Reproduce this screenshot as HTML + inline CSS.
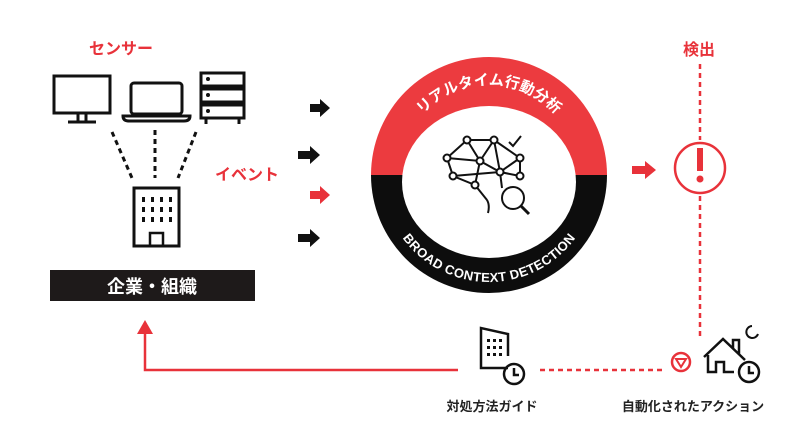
<!DOCTYPE html>
<html><head><meta charset="utf-8"><style>
html,body{margin:0;padding:0;background:#fff;}
svg{display:block;font-family:"Liberation Sans","Noto Sans CJK JP",sans-serif;}
</style></head><body>
<svg width="800" height="448" viewBox="0 0 800 448" xmlns="http://www.w3.org/2000/svg">
<defs>
<path id="topArc" d="M 399 175 A 90 90 0 0 1 579 175"/>
<path id="botArc" d="M 387 175 A 102 102 0 0 0 591 175"/>
</defs>
<!-- labels -->
<text x="121" y="54" fill="#e8323a" font-size="16" font-weight="bold" text-anchor="middle">センサー</text>
<text x="247" y="180" fill="#e8323a" font-size="16" font-weight="bold" text-anchor="middle">イベント</text>
<text x="699" y="55" fill="#e8323a" font-size="16" font-weight="bold" text-anchor="middle">検出</text>

<!-- monitor -->
<g fill="none" stroke="#111" stroke-width="3">
<rect x="54" y="76" width="56" height="37"/>
<line x1="78" y1="113" x2="78" y2="121"/><line x1="86" y1="113" x2="86" y2="121"/>
<line x1="68" y1="122" x2="96" y2="122"/>
<rect x="131" y="83" width="51" height="31" rx="3"/>
<path d="M123 116 H190 Q190 121 184 121 H129 Q123 121 123 116Z"/>
<rect x="201" y="73" width="43" height="13"/>
<rect x="201" y="89" width="43" height="13"/>
<rect x="201" y="105" width="43" height="13"/>
<line x1="206" y1="118" x2="206" y2="124"/><line x1="239" y1="118" x2="239" y2="124"/>
</g>
<g fill="#111"><circle cx="208" cy="79" r="2"/><circle cx="208" cy="95" r="2"/><circle cx="208" cy="111" r="2"/></g>
<g stroke="#111" stroke-width="3" stroke-dasharray="5,4">
<line x1="112" y1="132" x2="132" y2="178"/>
<line x1="155" y1="130" x2="155" y2="178"/>
<line x1="196" y1="132" x2="178" y2="178"/>
</g>
<rect x="134" y="188" width="45" height="58" fill="none" stroke="#111" stroke-width="3"/>
<g fill="#111">
<rect x="142" y="197" width="3" height="5"/><rect x="151" y="197" width="3" height="5"/><rect x="160" y="197" width="3" height="5"/><rect x="169" y="197" width="3" height="5"/>
<rect x="142" y="207" width="3" height="5"/><rect x="151" y="207" width="3" height="5"/><rect x="160" y="207" width="3" height="5"/><rect x="169" y="207" width="3" height="5"/>
<rect x="142" y="217" width="3" height="5"/><rect x="151" y="217" width="3" height="5"/><rect x="160" y="217" width="3" height="5"/><rect x="169" y="217" width="3" height="5"/>
</g>
<rect x="150" y="233" width="13" height="13" fill="none" stroke="#111" stroke-width="2.5"/>
<rect x="50" y="270" width="205" height="31" fill="#1e1a1a"/>
<text x="152" y="293" fill="#fff" font-size="18" font-weight="bold" text-anchor="middle">企業・組織</text>

<!-- arrows -->
<path d="M310 104 H320 V99 L330 108 L320 117 V112 H310Z" fill="#111"/>
<path d="M298 151 H310 V146 L320 155 L310 164 V159 H298Z" fill="#111"/>
<path d="M310 191 H320 V186 L330 195 L320 204 V199 H310Z" fill="#e8323a"/>
<path d="M298 234 H310 V229 L320 238 L310 247 V242 H298Z" fill="#111"/>
<path d="M632 166 H645 V161 L656 170 L645 179 V174 H632Z" fill="#e8323a"/>

<!-- ring -->
<path d="M371 175 A118 118 0 0 1 607 175Z" fill="#ec3b3f"/>
<path d="M371 175 A118 118 0 0 0 607 175Z" fill="#0d0d0d"/>
<ellipse cx="489" cy="182" rx="87" ry="76" fill="#fff"/>
<text fill="#fff" font-size="15" font-weight="bold" text-anchor="middle"><textPath href="#topArc" startOffset="50%">リアルタイム行動分析</textPath></text>
<text fill="#fff" font-size="13" font-weight="bold" text-anchor="middle" dominant-baseline="central"><textPath href="#botArc" startOffset="50%">BROAD CONTEXT DETECTION</textPath></text>
<g stroke="#111" stroke-width="2" fill="none">
<path d="M447 158 L467 140 L494 140 L520 158 L520 176 L500 172 L480 161 L467 140 M447 158 L480 161 L494 140 L500 172 L520 158 M447 158 L453 176 L475 185 L480 161 M453 176 L500 172 M475 185 L487 200 M487 200 Q490 205 488 213 M500 172 L502 188"/>
<circle cx="513" cy="198" r="11"/>
<line x1="521" y1="206" x2="529" y2="214" stroke-width="3"/>
<path d="M509 142 L513 146 L521 136"/>
</g>
<g fill="#fff" stroke="#111" stroke-width="2">
<circle cx="467" cy="140" r="3.5"/><circle cx="494" cy="140" r="3.5"/><circle cx="447" cy="158" r="3.5"/><circle cx="480" cy="161" r="3.5"/><circle cx="520" cy="158" r="3.5"/><circle cx="500" cy="172" r="3.5"/><circle cx="520" cy="176" r="3.5"/><circle cx="453" cy="176" r="3.5"/><circle cx="475" cy="185" r="3.5"/>
</g>

<!-- detection -->
<g stroke="#e8323a" stroke-width="2.5" stroke-dasharray="5,4" fill="none">
<line x1="700" y1="64" x2="700" y2="140"/>
<line x1="700" y1="196" x2="700" y2="340"/>
<line x1="540" y1="370" x2="662" y2="370"/>
</g>
<circle cx="700" cy="168" r="25" fill="none" stroke="#e8323a" stroke-width="2.5"/>
<rect x="697" y="148" width="6" height="23" fill="#e8323a"/>
<circle cx="700" cy="179" r="3.5" fill="#e8323a"/>

<path d="M458 370 H145 V332" fill="none" stroke="#e8323a" stroke-width="2.5"/>
<path d="M137 334 L145 320 L153 334Z" fill="#e8323a"/>

<g stroke="#111" stroke-width="2.5" fill="none">
<path d="M508 368 H481 V328 L508 334 V356"/>
<circle cx="514" cy="374" r="10"/>
<path d="M514 368 V375 H519"/>
</g>
<g fill="#111">
<rect x="487" y="339" width="3" height="3"/><rect x="493" y="339" width="3" height="3"/><rect x="499" y="339" width="3" height="3"/>
<rect x="487" y="346" width="3" height="3"/><rect x="493" y="346" width="3" height="3"/><rect x="499" y="346" width="3" height="3"/>
<rect x="487" y="353" width="3" height="3"/><rect x="493" y="353" width="3" height="3"/><rect x="499" y="353" width="3" height="3"/>
</g>
<text x="492" y="411" fill="#222" font-size="13" font-weight="bold" text-anchor="middle">対処方法ガイド</text>

<circle cx="681" cy="362" r="9" fill="none" stroke="#e8323a" stroke-width="2.5"/>
<path d="M676 359 L686 359 L681 367Z" fill="none" stroke="#e8323a" stroke-width="2"/>
<g stroke="#111" stroke-width="2.5" fill="none">
<path d="M704 357 L723 339 L745 360 M708 355 V372 H716 V362 H724 V372 H734 M733 348 V340 H739 V354"/>
<circle cx="749" cy="372" r="10"/>
<path d="M749 366 V373 H754"/>
<path d="M752 326 A6 6 0 1 0 758 334" stroke-width="2"/>
</g>
<text x="693" y="411" fill="#222" font-size="13" font-weight="bold" text-anchor="middle">自動化されたアクション</text>
</svg>
</body></html>
